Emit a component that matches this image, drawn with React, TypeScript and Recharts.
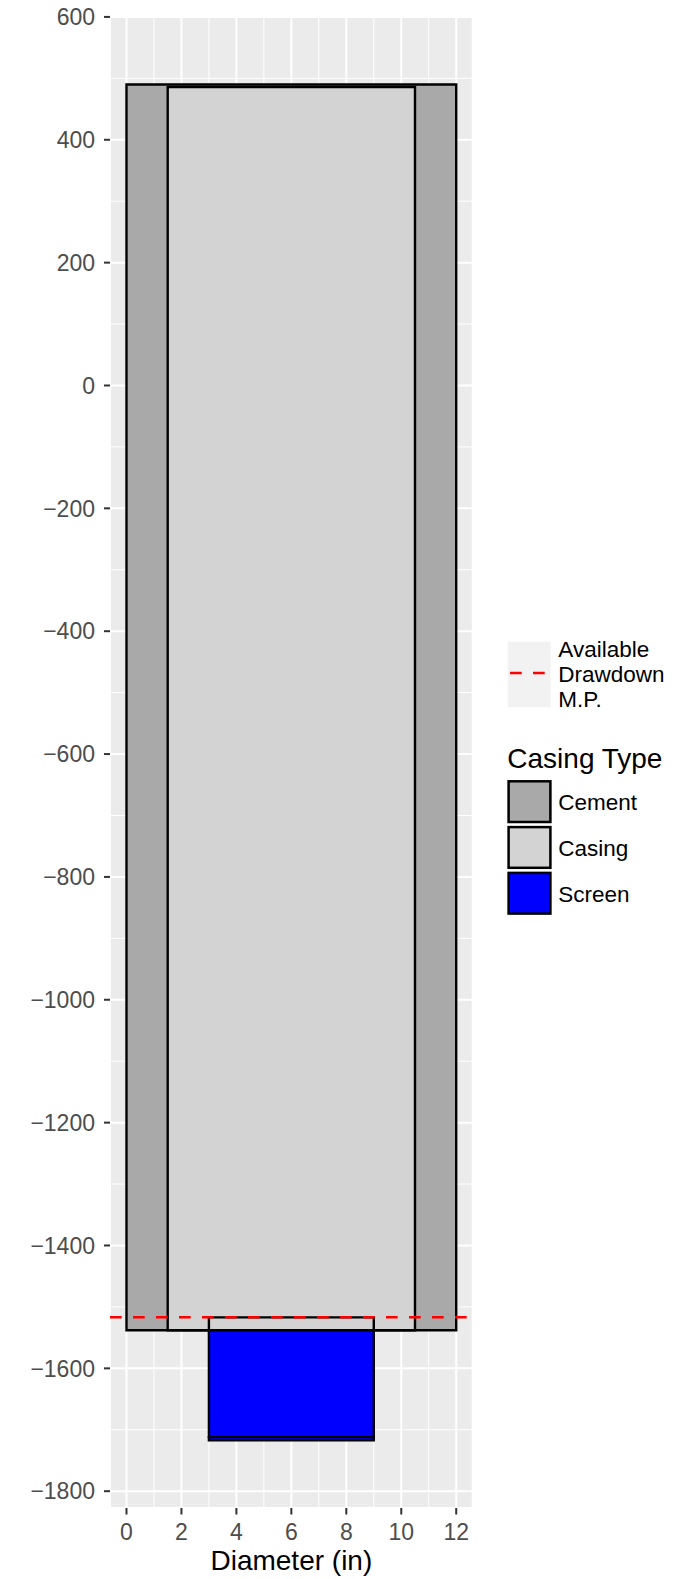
import React from "react";
import { ComposedChart, XAxis, YAxis, CartesianGrid, ReferenceArea, ReferenceLine } from "recharts";

// well segments (one entry per rectangle)
const segType = ["Cement", "Casing", "Casing", "Screen", "Screen"];
const segLeft = [0, 1.5, 3, 3, 3];
const segRight = [12, 10.5, 9, 9, 9];
const segTop = [490, 486, -1517, -1538, -1712];
const segBottom = [-1538, -1538, -1538, -1712, -1717];

const drawdownMP = -1517;

const legendTypes = ["Cement", "Casing", "Screen"];
const typeFill: Record<string, string> = { Cement: "#A9A9A9", Casing: "#D3D3D3", Screen: "#0000FF" };

const xTicks = [0, 2, 4, 6, 8, 10, 12];
const xMinor = [1, 3, 5, 7, 9, 11];
const yTicks = [-1800, -1600, -1400, -1200, -1000, -800, -600, -400, -200, 0, 200, 400, 600];
const yMinor = [-1700, -1500, -1300, -1100, -900, -700, -500, -300, -100, 100, 300, 500];

const font = '"Liberation Sans", Arial, Helvetica, sans-serif';

// ggplot-style 5% expansion
const expand = (lo: number, hi: number): [number, number] => {
  const pad = (hi - lo) * 0.05;
  return [lo - pad, hi + pad];
};
const xDomain = expand(Math.min(...segLeft), Math.max(...segRight));
const yDomain = expand(Math.min(...segBottom), Math.max(...segTop));

const fmtY = (v: number) => (v < 0 ? "\u2212" + Math.abs(v) : String(v));

const Legend = () => (
  <svg width={187} height={300} style={{ position: "absolute", left: 500, top: 630 }} fontFamily={font}>
    <rect x={7.7} y={11.7} width={43} height={65.3} fill="#F2F2F2" />
    <line x1={10} x2={49} y1={43} y2={43} stroke="#FF0000" strokeWidth={2.5} strokeDasharray="11.7 11.3" />
    {["Available", "Drawdown", "M.P."].map((t, i) => (
      <text key={t} x={58.3} y={26.8 + i * 25} fontSize={22.5} fill="#000">{t}</text>
    ))}
    <text x={7.3} y={138.3} fontSize={28} fill="#000">Casing Type</text>
    {legendTypes.map((t, i) => (
      <g key={t}>
        <rect x={8.6} y={151.3 + i * 45.8} width={41.8} height={40.7} fill={typeFill[t]} stroke="#000" strokeWidth={2.5} />
        <text x={58.3} y={180.2 + i * 45.8} fontSize={22.5} fill="#000">{t}</text>
      </g>
    ))}
  </svg>
);

export default function App() {
  return (
    <div style={{ position: "absolute", left: 0, top: 0, width: 687, height: 1579, fontFamily: font, background: "#fff" }}>
      <ComposedChart width={687} height={1579} data={[]} margin={{ top: 16.7, right: 214.3, left: 0, bottom: 0 }} style={{ fontFamily: font }}>
        <CartesianGrid fill="#EBEBEB" stroke="#FFFFFF" strokeWidth={2} />
        <XAxis
          type="number"
          dataKey="x"
          domain={xDomain}
          allowDataOverflow
          ticks={xTicks}
          interval={0}
          height={71}
          axisLine={false}
          tickSize={6.5}
          tickMargin={9}
          tickLine={{ stroke: "#333333", strokeWidth: 2 }}
          tick={{ fill: "#4D4D4D", fontSize: 23 }}
          label={{ value: "Diameter (in)", position: "insideBottom", offset: 9, fill: "#000", fontSize: 28 }}
        />
        <YAxis
          type="number"
          dataKey="y"
          domain={yDomain}
          allowDataOverflow
          ticks={yTicks}
          interval={0}
          width={110}
          axisLine={false}
          tickSize={6}
          tickMargin={9}
          tickFormatter={fmtY}
          tickLine={{ stroke: "#333333", strokeWidth: 2 }}
          tick={{ fill: "#4D4D4D", fontSize: 23 }}
        />
        {xMinor.map((v) => (
          <ReferenceLine key={"mx" + v} x={v} stroke="#FFFFFF" strokeWidth={1} zIndex={-90} />
        ))}
        {yMinor.map((v) => (
          <ReferenceLine key={"my" + v} y={v} stroke="#FFFFFF" strokeWidth={1} zIndex={-90} />
        ))}
        {segType.map((t, i) => (
          <ReferenceArea
            key={"seg" + i}
            x1={segLeft[i]}
            x2={segRight[i]}
            y1={segBottom[i]}
            y2={segTop[i]}
            fill={typeFill[t]}
            fillOpacity={1}
            stroke="#000000"
            strokeWidth={2.4}
            zIndex={100 + i}
          />
        ))}
        <ReferenceLine y={drawdownMP} stroke="#FF0000" strokeWidth={2.5} strokeDasharray="11.7 11.3" zIndex={450} />
      </ComposedChart>
      <Legend />
    </div>
  );
}
